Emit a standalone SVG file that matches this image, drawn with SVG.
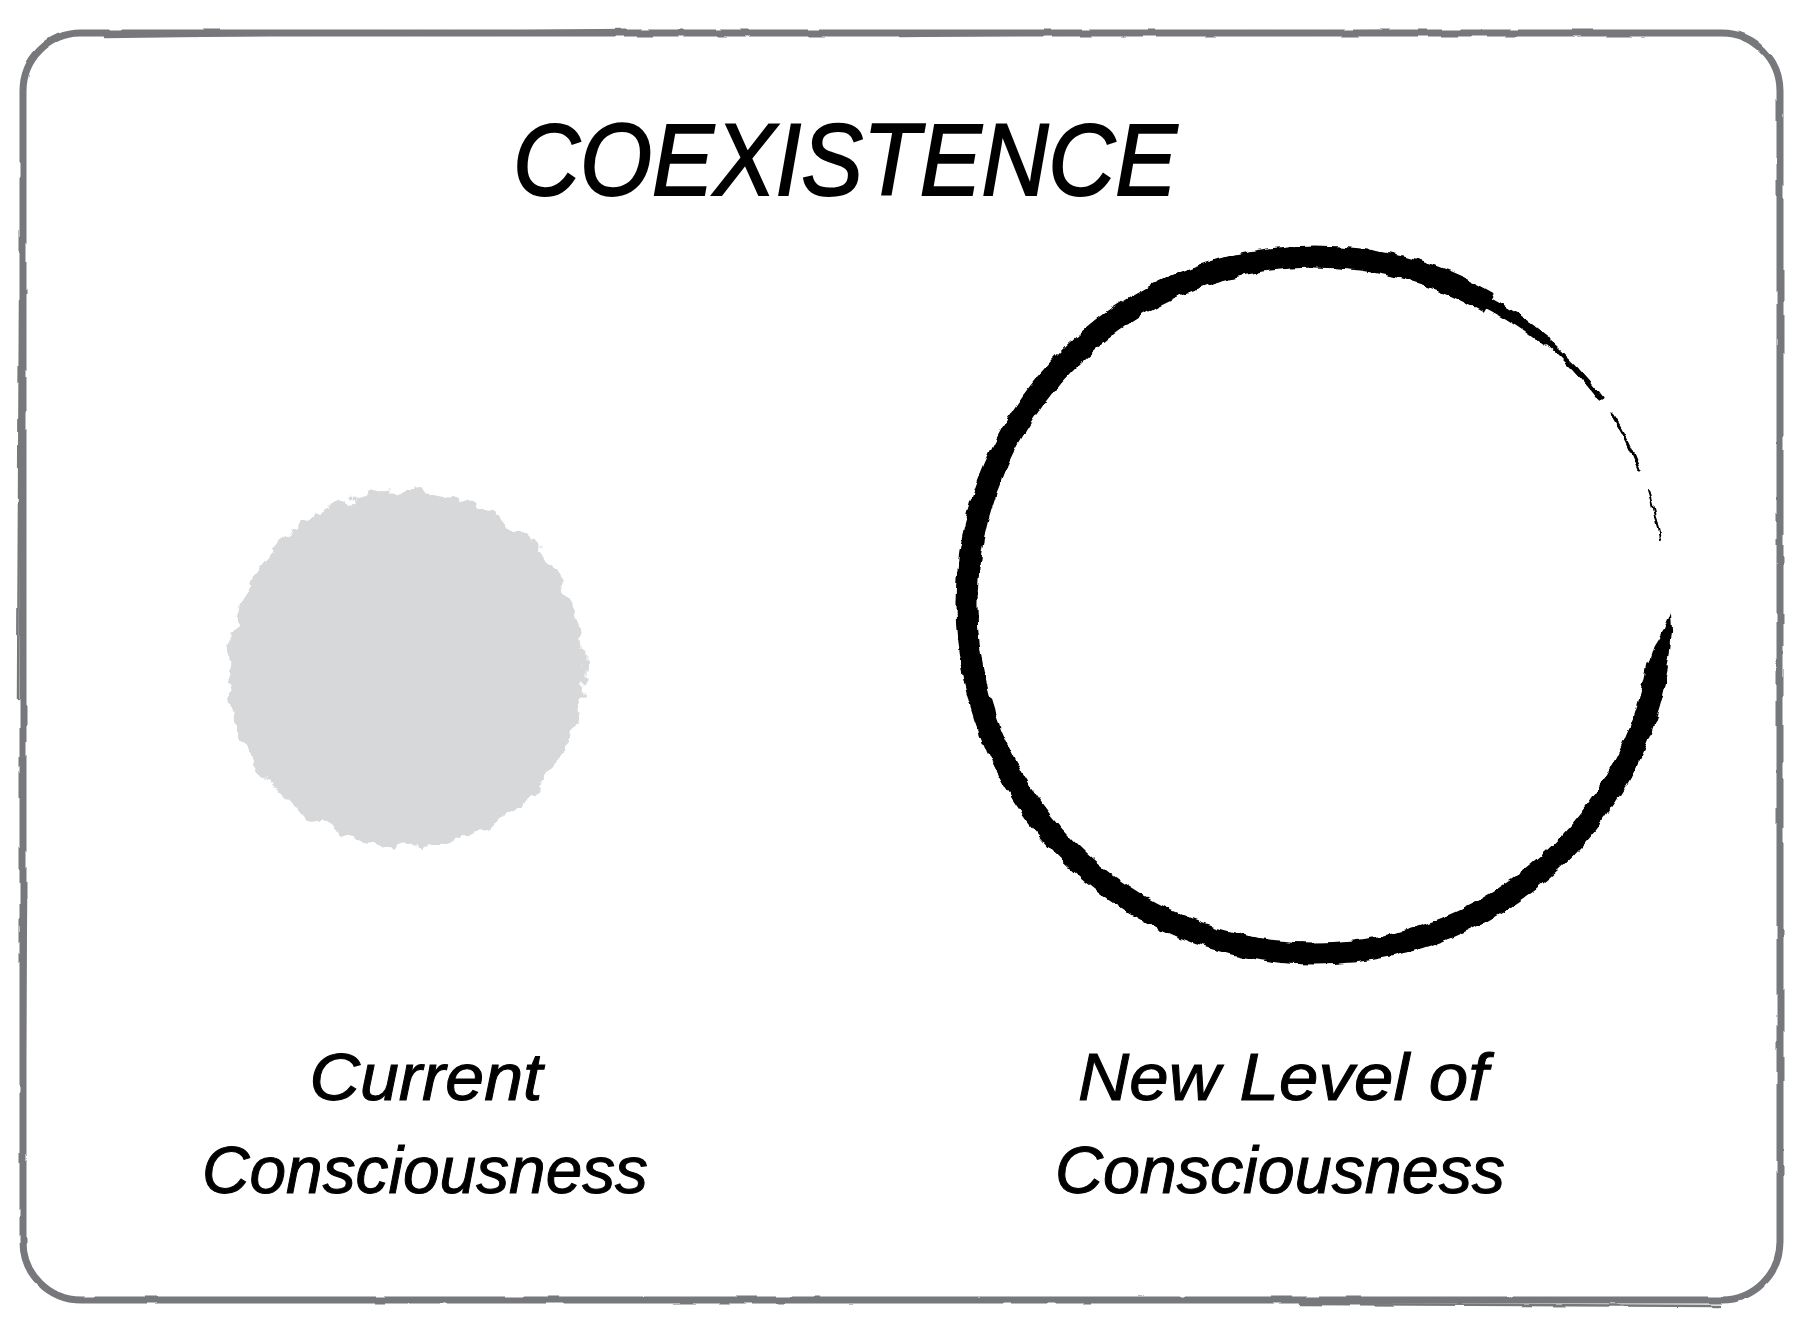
<svg xmlns="http://www.w3.org/2000/svg" width="1800" height="1326" viewBox="0 0 1800 1326">
  <style>
    .frame { fill: none; stroke: #77787b; stroke-width: 7; }
    .sketch { fill: none; stroke: #77787b; stroke-width: 2.5; stroke-linecap: round; }
    .title { font-family: "Liberation Sans", "DejaVu Sans", sans-serif; font-style: italic; font-size: 102px; fill: #000; stroke: #000; stroke-width: 2; text-anchor: middle; }
    .label { font-family: "Liberation Sans", "DejaVu Sans", sans-serif; font-style: italic; font-size: 66px; fill: #000; stroke: #000; stroke-width: 1; text-anchor: middle; }
    .ring { fill: none; stroke: #000; stroke-width: 22; }
    .ringThin { fill: none; stroke: #000; stroke-linecap: round; }
  </style>
  <defs>
    <filter id="roughBlob" x="-10%" y="-10%" width="120%" height="120%">
      <feTurbulence type="fractalNoise" baseFrequency="0.06" numOctaves="3" seed="4" result="n"/>
      <feDisplacementMap in="SourceGraphic" in2="n" scale="18" xChannelSelector="R" yChannelSelector="G"/>
    </filter>
    <filter id="roughRing" x="-5%" y="-5%" width="110%" height="110%">
      <feTurbulence type="fractalNoise" baseFrequency="0.08" numOctaves="2" seed="9" result="n"/>
      <feDisplacementMap in="SourceGraphic" in2="n" scale="7" xChannelSelector="R" yChannelSelector="G"/>
    </filter>
    <filter id="roughFrame" x="-2%" y="-2%" width="104%" height="104%">
      <feTurbulence type="fractalNoise" baseFrequency="0.03" numOctaves="2" seed="2" result="n"/>
      <feDisplacementMap in="SourceGraphic" in2="n" scale="3" xChannelSelector="R" yChannelSelector="G"/>
    </filter>
  </defs>

  <rect width="1800" height="1326" fill="#ffffff"/>

  <g id="frame" filter="url(#roughFrame)">
    <rect class="frame" x="23" y="33" width="1757" height="1267" rx="58" ry="58"/>
    <path class="sketch" d="M105,37 L620,30 M900,36 L1380,31"/>
    <path class="sketch" d="M20,300 L18,700 M26,900 L24,1150"/>
    <path class="sketch" d="M1300,1304 L1720,1306"/>
  </g>

  <g id="title">
    <text class="title" x="845" y="195" textLength="664" lengthAdjust="spacingAndGlyphs">COEXISTENCE</text>
  </g>

  <g id="node-current">
    <circle cx="406" cy="668" r="178" fill="#d7d8da" filter="url(#roughBlob)"/>
    <text class="label" x="426" y="1100" textLength="233" lengthAdjust="spacingAndGlyphs">Current</text>
    <text class="label" x="425" y="1193" textLength="446" lengthAdjust="spacingAndGlyphs">Consciousness</text>
  </g>

  <g id="node-new">
    <g filter="url(#roughRing)">
      <path class="ring" d="M1658.2,665.5 A348.5,348.5 0 1 1 1489.3,303.2"/>
      <path d="M1670.9,611.2 L1672.1,630.0 L1670.3,648.6 L1667.0,670.2 L1647.3,666.8 L1653.5,646.7 L1664.1,629.4 Z" fill="#000"/>
      <path class="ringThin" stroke-width="11" d="M1480,299 A349,349 0 0 1 1545,340"/>
      <path class="ringThin" stroke-width="5" d="M1545,340 A349,349 0 0 1 1600,398"/>
      <path class="ringThin" stroke-width="3" d="M1612,414 A349,349 0 0 1 1640,470"/>
      <path class="ringThin" stroke-width="2" d="M1648,490 A349,349 0 0 1 1660,540"/>
    </g>
    <text class="label" x="1283" y="1100" textLength="410" lengthAdjust="spacingAndGlyphs">New Level of</text>
    <text class="label" x="1280" y="1193" textLength="450" lengthAdjust="spacingAndGlyphs">Consciousness</text>
  </g>

  <g id="connectors"/>
</svg>
